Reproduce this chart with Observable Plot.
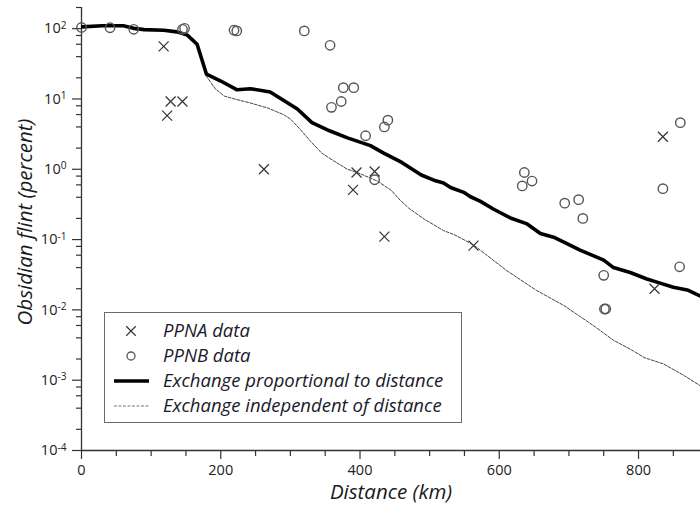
<!DOCTYPE html>
<html>
<head>
<meta charset="utf-8">
<script src="https://cdn.jsdelivr.net/npm/d3@7"></script>
<script src="https://cdn.jsdelivr.net/npm/@observablehq/plot@0.6"></script>
<style>
  body { margin: 0; background: #fff; }
  #chart { position: relative; width: 700px; height: 508px; }
  .legend {
    position: absolute; left: 104px; top: 312px; width: 358px; height: 111px;
    box-sizing: border-box; border: 1.6px solid #6a6a6a; background: #fff;
  }
  .legend svg { display: block; }
</style>
</head>
<body>
<div id="chart"></div>
<script>
// PPNA sites: distance from source (km) and obsidian share of flint (%)
const ppnaKm  = [118, 128, 145, 123, 262, 395, 421, 390, 435, 563, 835, 823];
const ppnaPct = [56, 9.2, 9.2, 5.8, 1.0, 0.90, 0.93, 0.51, 0.11, 0.082, 2.9, 0.020];

// PPNB sites
const ppnbKm  = [0, 41, 75, 145, 148, 219, 223, 320, 357, 376, 391, 359, 373, 440, 435, 408, 421,
                 636, 647, 633, 694, 714, 720, 860, 835, 750, 751, 753, 859];
const ppnbPct = [104, 103, 98, 98, 101, 95, 93, 93, 58, 14.5, 14.5, 7.6, 9.2, 5.0, 4.0, 3.0, 0.71,
                 0.90, 0.68, 0.58, 0.33, 0.37, 0.20, 4.6, 0.53, 0.031, 0.0103, 0.0103, 0.041];

// Model: exchange proportional to distance
const propKm  = [0, 30, 60, 75, 90, 118, 137, 152, 166, 179.5, 200, 223.5, 242.6, 271, 290, 310, 331,
                 357, 382, 415, 434, 460, 488, 506, 520, 530, 549, 558, 573, 592, 616, 640, 659, 678,
                 695, 716, 750, 764, 788, 812, 831, 850, 870, 889];
const propPct = [106, 110, 110, 101, 97, 95, 90, 81, 60, 22.5, 18, 13.5, 14, 12.6, 9.6, 7.2, 4.6,
                 3.5, 2.8, 2.17, 1.7, 1.25, 0.83, 0.70, 0.64, 0.55, 0.47, 0.41, 0.35, 0.27, 0.203,
                 0.167, 0.122, 0.108, 0.090, 0.071, 0.051, 0.040, 0.034, 0.0275, 0.024, 0.021, 0.0192, 0.0157];

// Model: exchange independent of distance
const indepKm  = [0, 30, 60, 75, 90, 118, 137, 152, 166, 179.5, 192, 205, 223, 242, 268, 290, 300, 314,
                  329, 345, 362, 382, 396, 425, 445, 458, 470, 492, 520, 535, 563, 575, 611, 654, 693,
                  735, 764, 790, 808, 836, 865, 889];
const indepPct = [106, 110, 110, 101, 97, 95, 90, 81, 60, 21, 14, 11, 9.8, 8.8, 7.4, 6.0, 5.2, 3.7,
                  2.5, 1.7, 1.32, 1.0, 0.90, 0.68, 0.50, 0.36, 0.28, 0.196, 0.134, 0.118, 0.084, 0.068,
                  0.036, 0.0188, 0.0115, 0.0060, 0.0037, 0.0027, 0.0021, 0.0017, 0.00117, 0.00083];

// Axis ticks
const xMajorTicks = [0, 200, 400, 600, 800];
const xMinorTicks = [50, 100, 150, 250, 300, 350, 450, 500, 550, 650, 700, 750, 850];
const yExponents  = [-4, -3, -2, -1, 0, 1, 2];
const yMinorMantissas = [2, 4, 6, 8];

const xTitle = "Distance (km)";
const yTitle = "Obsidian flint (percent)";
const legendLabels = ["PPNA data", "PPNB data", "Exchange proportional to distance", "Exchange independent of distance"];

const ppna  = ppnaKm.map((k, i) => ({km: k, pct: ppnaPct[i]}));
const ppnb  = ppnbKm.map((k, i) => ({km: k, pct: ppnbPct[i]}));
const prop  = propKm.map((k, i) => ({km: k, pct: propPct[i]}));
const indep = indepKm.map((k, i) => ({km: k, pct: indepPct[i]}));

const yMajorTicks = yExponents.map(e => Math.pow(10, e));
const yMinorTicks = [];
for (const e of yExponents) for (const m of yMinorMantissas) {
  const v = m * Math.pow(10, e);
  if (v <= 200) yMinorTicks.push(v);
}

const axisColor = "#333";
const font = '"Open Sans", sans-serif';

const chart = Plot.plot({
  width: 700,
  height: 508,
  marginLeft: 81,
  marginRight: 0,
  marginTop: 7,
  marginBottom: 58,
  style: {fontFamily: font, fontSize: "14.5px", color: "#222", background: "#fff", overflow: "visible"},
  x: {domain: [0, 889]},
  y: {type: "log", domain: [1e-4, 200]},
  marks: [
    Plot.axisX({ticks: xMinorTicks, tickSize: 6, tickFormat: () => "", stroke: axisColor, strokeWidth: 1.2, label: null}),
    Plot.axisX({ticks: xMajorTicks, tickSize: 9, tickPadding: 5, stroke: axisColor, strokeWidth: 1.2, label: null, fill: "#222"}),
    Plot.axisY({ticks: yMinorTicks, tickSize: 5, tickFormat: () => "", stroke: axisColor, strokeWidth: 1.2, label: null}),
    Plot.axisY({ticks: yMajorTicks, tickSize: 9, tickPadding: 6, stroke: axisColor, strokeWidth: 1.2, label: null, fill: "#222",
                tickFormat: d => "10^" + Math.round(Math.log10(d))}),
    Plot.ruleX([0], {stroke: axisColor, strokeWidth: 1.3}),
    Plot.ruleY([1e-4], {stroke: axisColor, strokeWidth: 1.3}),
    Plot.text([xTitle], {frameAnchor: "bottom", dy: 48, fontSize: 20.5, fontStyle: "italic", fill: "#1a1a1a"}),
    Plot.text([yTitle], {frameAnchor: "left", textAnchor: "middle", dx: -56, dy: -7, rotate: -90,
                         fontSize: 20.5, fontStyle: "italic", fill: "#1a1a1a"}),
    Plot.line(indep, {x: "km", y: "pct", stroke: "#444", strokeWidth: 1, strokeDasharray: "3,1.5", clip: true}),
    Plot.line(prop, {x: "km", y: "pct", stroke: "#000", strokeWidth: 3.6, clip: true}),
    Plot.dot(ppnb, {x: "km", y: "pct", symbol: "circle", r: 4.7, stroke: "#555", strokeWidth: 1.4, fill: "none"}),
    Plot.dot(ppna, {x: "km", y: "pct", symbol: "times", r: 4.6, stroke: "#333", strokeWidth: 1.2})
  ]
});

// Superscript exponents on the log-axis labels
chart.querySelectorAll('g[aria-label="y-axis tick label"] text').forEach(t => {
  const s = t.textContent;
  if (!s.includes("^")) return;
  const [base, exp] = s.split("^");
  t.textContent = base;
  const sup = document.createElementNS("http://www.w3.org/2000/svg", "tspan");
  sup.setAttribute("dy", "-0.45em");
  sup.setAttribute("font-size", "0.7em");
  sup.textContent = exp;
  t.appendChild(sup);
});

const root = document.getElementById("chart");
root.appendChild(chart);

// Legend box inside the plot area
const legend = d3.select(root).append("div").attr("class", "legend");
const lsvg = legend.append("svg").attr("width", 355).attr("height", 108);
const rowY = i => 18 + i * 25;
const kinds = ["times", "circle", "thick", "dashed"];
kinds.forEach((k, i) => {
  const y = rowY(i);
  if (k === "times") {
    lsvg.append("path").attr("d", d3.symbol(d3.symbolTimes, Math.PI * 4.4 * 4.4)())
      .attr("transform", `translate(26,${y})`).attr("stroke", "#333").attr("stroke-width", 1.2).attr("fill", "none");
  } else if (k === "circle") {
    lsvg.append("circle").attr("cx", 26).attr("cy", y).attr("r", 4)
      .attr("stroke", "#555").attr("stroke-width", 1.3).attr("fill", "none");
  } else if (k === "thick") {
    lsvg.append("line").attr("x1", 9).attr("x2", 44).attr("y1", y).attr("y2", y)
      .attr("stroke", "#000").attr("stroke-width", 3.6);
  } else {
    lsvg.append("line").attr("x1", 9).attr("x2", 44).attr("y1", y).attr("y2", y)
      .attr("stroke", "#777").attr("stroke-width", 1).attr("stroke-dasharray", "3,1.5");
  }
  lsvg.append("text").attr("x", 58).attr("y", y).attr("dy", "0.35em")
    .attr("font-family", font).attr("font-style", "italic").attr("font-size", 18.5)
    .attr("fill", "#1a1a2a").text(legendLabels[i]);
});
</script>
</body>
</html>
